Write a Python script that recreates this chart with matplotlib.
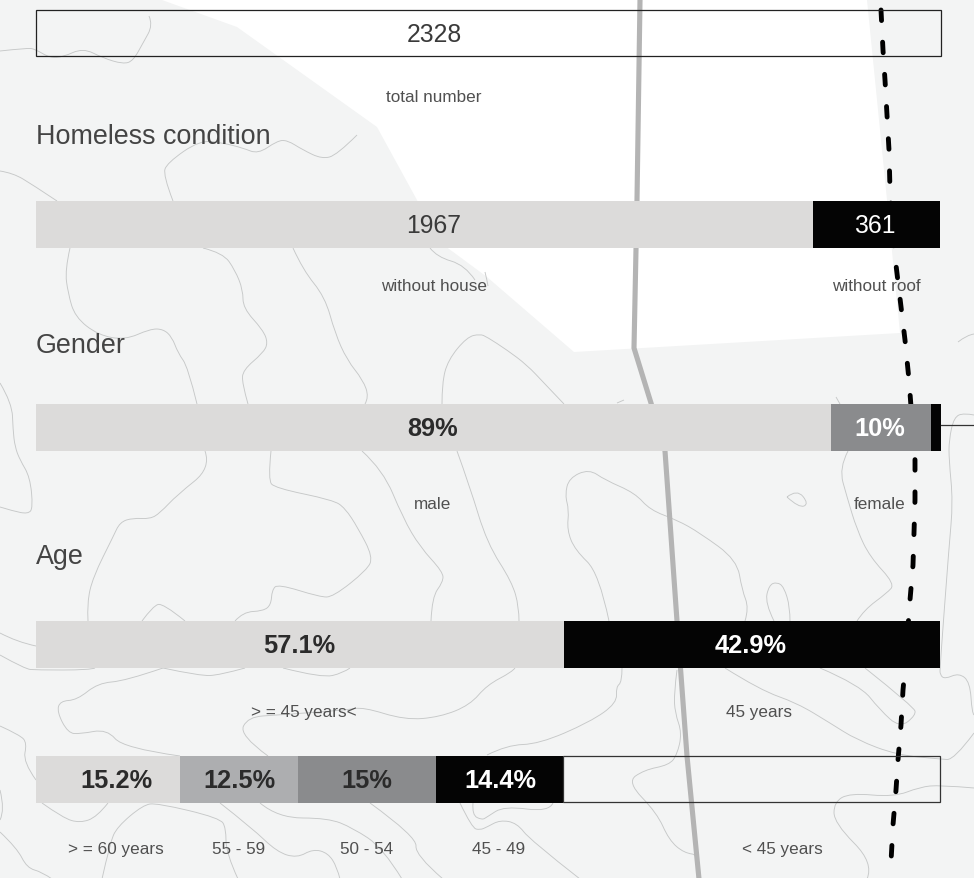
import matplotlib
matplotlib.use('Agg')
import matplotlib.pyplot as plt
from matplotlib.path import Path
from matplotlib.patches import PathPatch, Polygon

plt.rcParams['font.family'] = ['Liberation Sans', 'DejaVu Sans']
plt.rcParams['lines.scale_dashes'] = False

# segment lengths as drawn in the picture (they do not follow the printed numbers exactly)
total_seg = [905]
condition_seg = [777, 127]
gender_seg = [795, 100, 10]
age_seg = [528, 376]
age_detail_seg = [144, 118, 138, 127, 377]

# printed labels and where they sit
total_labels = ['2328']
condition_labels = ['1967', '361']
condition_x = [434, 875]
gender_labels = ['89%', '10%']
gender_x = [433, 880]
age_labels = ['57.1%', '42.9%']
age_x = [299, 751]
age_detail_labels = ['15.2%', '12.5%', '15%', '14.4%']
age_detail_x = [116, 239, 367, 500]

# background map, in picture pixels
white_area = [(162, 0), (237, 27), (377, 127), (417, 200), (430, 235), (460, 257), (487, 277),
              (574, 352), (900, 333), (887, 200), (867, 0)]
road = [(640, 0), (637, 200), (634, 348), (651, 403), (665, 451), (677, 621), (687, 756), (699, 879)]
border = [(881, 10), (883, 50), (885, 80), (889, 150), (890, 190), (893, 240), (899, 290), (905, 340),
          (909, 380), (912, 420), (915, 460), (915, 500), (914, 533), (913, 565), (910, 600), (905, 668),
          (903, 690), (901, 725), (898, 760), (896, 790), (893, 825), (891, 862)]
contours = [
    [(0, 51), (27, 48), (35, 49), (50, 58), (63, 57), (83, 48), (103, 58), (123, 64), (133, 61), (143, 43), (153, 25), (149, 16)],
    [(357, 135), (337, 155), (322, 159), (303, 150), (287, 140), (277, 141), (258, 154), (243, 148), (223, 143), (200, 140), (167, 163), (163, 175), (173, 201)],
    [(0, 171), (13, 173), (33, 185), (57, 201)],
    [(70, 248), (65, 270), (68, 293), (75, 317), (98, 335), (125, 340), (150, 329), (163, 329), (172, 337), (178, 353), (188, 367), (197, 404)],
    [(203, 248), (223, 253), (235, 270), (243, 290), (243, 308), (263, 330), (268, 343), (263, 353), (243, 370), (242, 383), (248, 404)],
    [(293, 248), (303, 270), (325, 297), (335, 333), (347, 360), (363, 380), (369, 397), (365, 404)],
    [(442, 404), (442, 383), (448, 360), (467, 337), (480, 334), (487, 337), (507, 350), (527, 365), (544, 383), (564, 404)],
    [(430, 248), (437, 257), (465, 265), (475, 280)],
    [(485, 272), (487, 280), (488, 286)],
    [(0, 383), (12, 403), (13, 430), (15, 447), (20, 460), (30, 477), (33, 508), (28, 514), (13, 511), (0, 507)],
    [(205, 451), (211, 468), (177, 495), (160, 513), (150, 519), (133, 518), (120, 522), (113, 537), (93, 577), (87, 603), (88, 621)],
    [(271, 451), (268, 480), (275, 488), (333, 500), (345, 508), (358, 528), (373, 557), (367, 570), (333, 597), (320, 597), (278, 584), (272, 590), (271, 605), (263, 611), (243, 612), (235, 621)],
    [(142, 621), (153, 606), (163, 603), (185, 621)],
    [(362, 451), (383, 470), (403, 518), (420, 547), (443, 572), (443, 582), (432, 597), (431, 621)],
    [(457, 451), (470, 487), (487, 543), (512, 582), (519, 607), (519, 621)],
    [(0, 633), (17, 642), (36, 646)],
    [(0, 655), (25, 669), (36, 670), (90, 670), (95, 668)],
    [(163, 668), (125, 681), (98, 683), (77, 700), (60, 701), (57, 712), (68, 733), (80, 734), (107, 729), (123, 748), (180, 756)],
    [(163, 668), (200, 676), (220, 675), (245, 668)],
    [(283, 668), (322, 678), (343, 673), (350, 668)],
    [(268, 756), (239, 735), (248, 717), (277, 715), (347, 710), (363, 707), (405, 720), (440, 717), (470, 705), (487, 685), (512, 672), (515, 668)],
    [(0, 726), (20, 735), (27, 743), (23, 762), (36, 780)],
    [(0, 790), (5, 810), (0, 820)],
    [(42, 803), (63, 818), (80, 823), (97, 817), (108, 803)],
    [(0, 832), (17, 848), (27, 868), (42, 872), (52, 879)],
    [(102, 879), (110, 843), (117, 827), (143, 805), (157, 803), (220, 818), (226, 828), (226, 853), (238, 879)],
    [(220, 803), (252, 828), (277, 852), (297, 858), (313, 849), (328, 853), (337, 867), (340, 879)],
    [(260, 803), (278, 818), (328, 818), (353, 828), (383, 848), (402, 879)],
    [(370, 803), (417, 837), (415, 855), (443, 879)],
    [(460, 803), (472, 828), (480, 830), (487, 827), (500, 820), (517, 823), (530, 840), (580, 879)],
    [(473, 803), (472, 815), (482, 820), (487, 817), (504, 806), (549, 812), (553, 803)],
    [(487, 755), (507, 745), (539, 744), (590, 722), (617, 703), (616, 687), (622, 682), (622, 668)],
    [(609, 621), (599, 573), (575, 550), (567, 530), (569, 510), (565, 495), (569, 478), (589, 469), (605, 480), (635, 493), (650, 510), (677, 520), (700, 533), (737, 560), (742, 590), (749, 608), (745, 621)],
    [(774, 621), (765, 603), (769, 585), (777, 582), (784, 587), (790, 607), (790, 621)],
    [(787, 497), (797, 489), (809, 504), (799, 508), (787, 497)],
    [(848, 451), (839, 468), (847, 497), (857, 530), (870, 557), (895, 584), (887, 593), (864, 610), (857, 621)],
    [(974, 415), (964, 413), (954, 417), (949, 440), (949, 460), (953, 502), (949, 547), (940, 667), (940, 675), (945, 679), (959, 673), (970, 682), (972, 713), (974, 715)],
    [(958, 342), (967, 335), (974, 334)],
    [(836, 397), (840, 404)],
    [(617, 403), (624, 400)],
    [(677, 670), (674, 693), (675, 713), (682, 733), (677, 755), (669, 765), (644, 770), (627, 782), (657, 813), (669, 840), (684, 853), (700, 855), (700, 879)],
    [(725, 668), (760, 690), (797, 703), (830, 723), (857, 740), (897, 755), (940, 759), (954, 760), (974, 733)],
    [(820, 668), (860, 685), (880, 710), (900, 728), (916, 715), (914, 707), (865, 668)],
    [(974, 788), (940, 785), (920, 787), (894, 797), (850, 793), (834, 802), (834, 823), (874, 863), (867, 879)],
]


def smooth(pts):
    # read points act as control points, curve goes through the midpoints
    verts = [pts[0]]
    codes = [Path.MOVETO]
    for i in range(1, len(pts) - 1):
        next_mid = ((pts[i][0] + pts[i + 1][0]) / 2, (pts[i][1] + pts[i + 1][1]) / 2)
        if i == len(pts) - 2:
            next_mid = pts[-1]
        verts += [pts[i], next_mid]
        codes += [Path.CURVE3, Path.CURVE3]
    if len(pts) == 2:
        verts.append(pts[1])
        codes.append(Path.LINETO)
    return Path(verts, codes)


def draw_row(ax, y, segs, colors):
    left = 36
    for seg, col in zip(segs, colors):
        ax.barh(y, seg, left=left, height=47, color=col, linewidth=0, zorder=5)
        left += seg


def draw_labels(ax, y, xs, labels, colors, bold=True, size=18.3):
    for x, lab, tc in zip(xs, labels, colors):
        ax.text(x, y, lab, ha='center', va='center', color=tc, fontsize=size,
                fontweight='bold' if bold else 'normal', zorder=7)


fig = plt.figure(figsize=(9.74, 8.79), dpi=100, facecolor='#f3f4f4')
ax = fig.add_axes([0, 0, 1, 1])
ax.set_xlim(0, 974)
ax.set_ylim(878, -1)
ax.axis('off')

LIGHT = '#dcdbda'
MID = '#adaeb0'
GREY = '#8a8b8d'
BLACK = '#040404'
INK = '#2b2b2b'
SOFT = '#505050'

ax.add_patch(Polygon(white_area, closed=True, facecolor='white', edgecolor='none', zorder=1))
for c in contours:
    ax.add_patch(PathPatch(smooth(c), facecolor='none', edgecolor='#c6c8c8', linewidth=0.65, zorder=2))
ax.plot([p[0] for p in road], [p[1] for p in road], color='#b4b4b4', lw=3.7, solid_joinstyle='miter', zorder=3)
ax.plot([p[0] for p in border], [p[1] for p in border], color='black', lw=3.5, dashes=(7.6, 15.6),
        dash_capstyle='round', zorder=4)

# rows
ax.barh(33, total_seg[0], left=36, height=46, facecolor='none', edgecolor='#222222', linewidth=0.9, zorder=6)
ax.text(434, 34, total_labels[0], ha='center', va='center', color='#3a3a3a', fontsize=17.8, zorder=7)
draw_row(ax, 224.5, condition_seg, [LIGHT, BLACK])
draw_labels(ax, 225, condition_x, condition_labels, ['#3a3a3a', 'white'], bold=False, size=17.8)
draw_row(ax, 427.5, gender_seg, [LIGHT, GREY, BLACK])
draw_labels(ax, 428, gender_x, gender_labels, [INK, 'white'])
draw_row(ax, 644.5, age_seg, [LIGHT, BLACK])
draw_labels(ax, 645, age_x, age_labels, [INK, 'white'])
draw_row(ax, 779.5, age_detail_seg[:4], [LIGHT, MID, GREY, BLACK])
draw_labels(ax, 780, age_detail_x, age_detail_labels, [INK, INK, INK, 'white'])
ax.barh(779, age_detail_seg[4], left=36 + sum(age_detail_seg[:4]), height=46, facecolor='none',
        edgecolor='#333333', linewidth=0.9, zorder=6)
ax.plot([941, 974], [425, 425], color='#333333', lw=0.9, zorder=6)

# section titles
for y, t in zip([136, 345, 556], ['Homeless condition', 'Gender', 'Age']):
    ax.text(36, y, t, ha='left', va='center', color='#444444', fontsize=19.4, zorder=7)

# small captions
captions = ['total number', 'without house', 'without roof', 'male', 'female', '> = 45 years<', '45 years',
            '> = 60 years', '55 - 59', '50 - 54', '45 - 49', '< 45 years']
cap_x = [434, 434, 876, 433, 880, 304, 759, 116, 239, 367, 499, 782]
cap_y = [96, 286, 286, 504, 504, 712, 712, 849, 849, 849, 849, 849]
for x, y, t in zip(cap_x, cap_y, captions):
    ax.text(x, y, t, ha='center', va='center', color=SOFT, fontsize=12.3, zorder=7)

fig.savefig('out.png', dpi=100, facecolor=fig.get_facecolor())
